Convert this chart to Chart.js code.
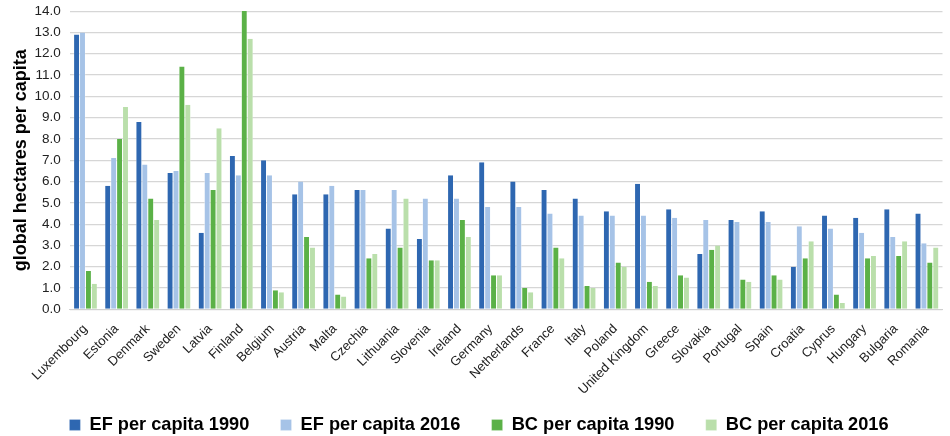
<!DOCTYPE html>
<html>
<head>
<meta charset="utf-8">
<script src="https://cdn.jsdelivr.net/npm/chart.js@4"></script>
<style>
  html, body { margin: 0; padding: 0; background: #fff; }
  #wrap { width: 950px; height: 436px; }
</style>
</head>
<body>
<div id="wrap"><canvas id="myChart" width="950" height="436"></canvas></div>
<script>
// Data (global hectares per capita)
const countries = ['Luxembourg', 'Estonia', 'Denmark', 'Sweden', 'Latvia', 'Finland', 'Belgium', 'Austria',
    'Malta', 'Czechia', 'Lithuania', 'Slovenia', 'Ireland', 'Germany', 'Netherlands', 'France', 'Italy',
    'Poland', 'United Kingdom', 'Greece', 'Slovakia', 'Portugal', 'Spain', 'Croatia', 'Cyprus', 'Hungary',
    'Bulgaria', 'Romania'];
const ef1990 = [12.9, 5.8, 8.8, 6.4, 3.6, 7.2, 7.0, 5.4, 5.4, 5.6, 3.8, 3.3, 6.3, 6.9, 6.0, 5.6, 5.2, 4.6, 5.9, 4.7, 2.6, 4.2, 4.6, 2.0, 4.4, 4.3, 4.7, 4.5];
const ef2016 = [13.0, 7.1, 6.8, 6.5, 6.4, 6.3, 6.3, 6.0, 5.8, 5.6, 5.6, 5.2, 5.2, 4.8, 4.8, 4.5, 4.4, 4.4, 4.4, 4.3, 4.2, 4.1, 4.1, 3.9, 3.8, 3.6, 3.4, 3.1];
const bc1990 = [1.8, 8.0, 5.2, 11.4, 5.6, 14.0, 0.9, 3.4, 0.7, 2.4, 2.9, 2.3, 4.2, 1.6, 1.0, 2.9, 1.1, 2.2, 1.3, 1.6, 2.8, 1.4, 1.6, 2.4, 0.7, 2.4, 2.5, 2.2];
const bc2016 = [1.2, 9.5, 4.2, 9.6, 8.5, 12.7, 0.8, 2.9, 0.6, 2.6, 5.2, 2.3, 3.4, 1.6, 0.8, 2.4, 1.0, 2.0, 1.1, 1.5, 3.0, 1.3, 1.4, 3.2, 0.3, 2.5, 3.2, 2.9];
const seriesNames = ['EF per capita 1990', 'EF per capita 2016', 'BC per capita 1990', 'BC per capita 2016'];
const yTicks = [0, 1, 2, 3, 4, 5, 6, 7, 8, 9, 10, 11, 12, 13, 14];

const colors = ['#2E67B1', '#A6C3E7', '#5BB147', '#BADFAB'];
const values = [ef1990, ef2016, bc1990, bc2016];
const font = 'Liberation Sans, Arial, sans-serif';

const data = {
    labels: countries,
    datasets: seriesNames.map((name, i) => ({
        label: name,
        data: values[i],
        backgroundColor: colors[i],
        borderColor: '#ffffff',
        borderWidth: { left: 0.5, right: 0.5, top: 0, bottom: 0 },
        barPercentage: 1.0,
        categoryPercentage: 0.76
    }))
};

// nudge the legend row a little to the right, as in the original
const legendShift = {
    id: 'legendShift',
    afterLayout: chart => { chart.legend.left += 10; }
};

const config = {
    type: 'bar',
    data: data,
    plugins: [legendShift],
    options: {
        responsive: false,
        animation: false,
        layout: { padding: { top: 0, right: 4, left: 2, bottom: -8 } },
        plugins: {
            tooltip: { enabled: false },
            legend: {
                position: 'bottom',
                labels: {
                    boxWidth: 11,
                    boxHeight: 11,
                    padding: 6,
                    color: '#000',
                    font: { family: font, size: 18.2, weight: 'bold' },
                    // wider gaps between legend items than the padding alone gives
                    generateLabels: chart => {
                        const items = Chart.defaults.plugins.legend.labels.generateLabels(chart);
                        items.forEach((it, i) => {
                            if (i < items.length - 1) it.text = it.text + '     ';
                        });
                        return items;
                    }
                }
            }
        },
        scales: {
            x: {
                grid: { display: false, drawTicks: false },
                border: { color: '#d0d0d0' },
                ticks: {
                    minRotation: 45,
                    maxRotation: 45,
                    autoSkip: false,
                    padding: 12,
                    color: '#222',
                    font: { family: font, size: 13 }
                }
            },
            y: {
                min: 0,
                max: 14,
                afterBuildTicks: axis => { axis.ticks = yTicks.map(v => ({ value: v })); },
                grid: { color: '#d6d6d6', lineWidth: 1.2, drawTicks: true, tickLength: 6, tickColor: 'rgba(0,0,0,0)' },
                border: { display: false },
                ticks: {
                    padding: 3,
                    color: '#222',
                    font: { family: font, size: 13.5 },
                    callback: v => v.toFixed(1)
                },
                title: {
                    display: true,
                    text: 'global hectares per capita',
                    color: '#000',
                    padding: { top: 8, bottom: 0 },
                    font: { family: font, size: 18, weight: 'bold' }
                }
            }
        }
    }
};

const myChart = new Chart(document.getElementById('myChart'), config);
</script>
</body>
</html>
